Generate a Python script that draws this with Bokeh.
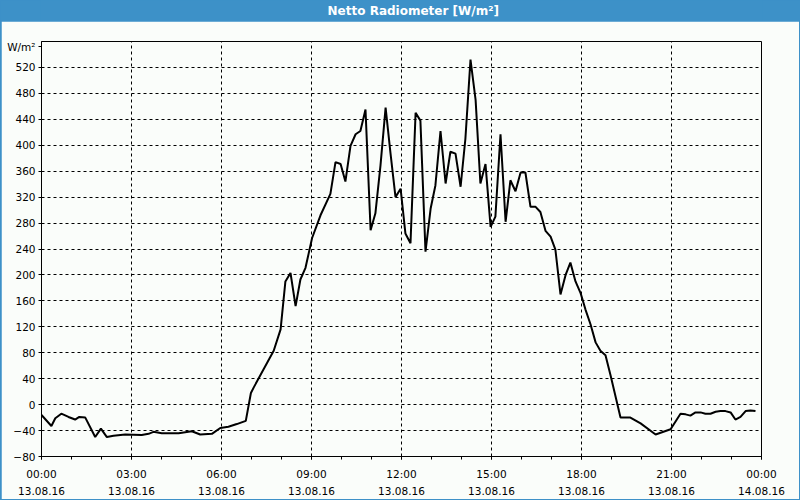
from bokeh.plotting import figure
from bokeh.models import FixedTicker
from bokeh.layouts import column
from bokeh.core.properties import value
from bokeh.embed import file_html
from bokeh.resources import INLINE

TITLE = "Netto Radiometer [W/m²]"
UNIT = "W/m²"

# time in hours after 13.08.16 00:00, values in W/m²
hours = [0.00, 0.33, 0.46, 0.66, 0.90, 1.12, 1.26, 1.46, 1.79, 1.98, 2.18, 2.40,
         2.79, 3.34, 3.57, 3.73, 4.01, 4.57, 5.01, 5.29, 5.68, 5.96, 6.23, 6.51,
         6.81, 6.98, 7.08, 7.74, 7.97, 8.13, 8.30, 8.47, 8.63, 8.80, 8.91, 9.02,
         9.30, 9.63, 9.80, 9.97, 10.13, 10.30, 10.47, 10.63, 10.80, 10.97, 11.13,
         11.30, 11.47, 11.63, 11.80, 11.97, 12.13, 12.30, 12.47, 12.63, 12.80,
         12.97, 13.13, 13.30, 13.47, 13.63, 13.80, 13.97, 14.13, 14.30, 14.47,
         14.63, 14.80, 14.97, 15.13, 15.30, 15.47, 15.63, 15.80, 15.97, 16.13,
         16.30, 16.47, 16.63, 16.80, 16.97, 17.13, 17.30, 17.47, 17.63, 17.80,
         17.97, 18.13, 18.30, 18.47, 18.63, 18.80, 18.97, 19.30, 19.63, 19.97,
         20.47, 20.97, 21.30, 21.47, 21.63, 21.80, 21.97, 22.13, 22.30, 22.47,
         22.63, 22.80, 22.97, 23.13, 23.30, 23.47, 23.63, 23.80]
radiation = [-16, -33, -21, -14, -19, -23, -19, -20, -50, -37, -50, -48,
             -46, -47, -45, -42, -44, -44, -41, -46, -45, -36, -34, -30,
             -25, 18, 27, 83, 116, 190, 203, 152, 193, 211, 234, 257,
             292, 325, 374, 371, 344, 399, 417, 422, 455, 269, 295,
             369, 458, 389, 320, 333, 264, 249, 450, 438, 236,
             302, 338, 422, 341, 390, 387, 336, 410, 532, 470,
             341, 371, 274, 290, 417, 282, 346, 329, 358, 358,
             305, 305, 297, 268, 259, 239, 170, 200, 219, 190,
             172, 147, 124, 96, 83, 76, 45, -20, -20, -29,
             -46, -38, -14, -15, -17, -12, -12, -14, -14, -11,
             -10, -10, -12, -23, -19, -10, -9, -10]

x_ticks = [0, 3, 6, 9, 12, 15, 18, 21, 24]
x_tick_labels = ["00:00\n13.08.16", "03:00\n13.08.16", "06:00\n13.08.16",
                 "09:00\n13.08.16", "12:00\n13.08.16", "15:00\n13.08.16",
                 "18:00\n13.08.16", "21:00\n13.08.16", "00:00\n14.08.16"]
x_minor = list(range(0, 25))
y_ticks = [-80, -40, 0, 40, 80, 120, 160, 200, 240, 280, 320, 360, 400, 440, 480, 520]
unit_pos = 552  # where the unit text sits on the value axis

BLUE = "#3d91c8"
BG = "#fafdfa"
FONT = "DejaVu Sans"

# title bar
top = figure(width=800, height=21, x_range=(0, 800), y_range=(0, 21),
             toolbar_location=None, output_backend="svg", min_border=0)
top.axis.visible = False
top.grid.visible = False
top.background_fill_color = BLUE
top.border_fill_color = BLUE
top.outline_line_color = None
top.text(x=[413], y=[10.5], text=[TITLE], text_color="white",
         text_font=value(FONT), text_font_style="bold", text_font_size="12px",
         text_align="center", text_baseline="middle")

p = figure(width=798, height=478, x_range=(0, 24), y_range=(-80, 560),
           toolbar_location=None, output_backend="svg",
           min_border_left=40, min_border_right=38, min_border_top=20,
           min_border_bottom=39, margin=(0, 1, 1, 1))
p.background_fill_color = BG
p.border_fill_color = BG
p.outline_line_color = "black"

p.line(hours, radiation, line_color="black", line_width=2)

p.xaxis.ticker = FixedTicker(ticks=x_ticks, minor_ticks=x_minor)
p.xaxis.major_label_overrides = {t: lab for t, lab in zip(x_ticks, x_tick_labels)}
p.yaxis.ticker = FixedTicker(ticks=y_ticks + [unit_pos], minor_ticks=[])
p.yaxis.major_label_overrides = {unit_pos: UNIT}

for ax in p.axis:
    ax.axis_line_color = "black"
    ax.major_tick_line_color = "black"
    ax.minor_tick_line_color = "black"
    ax.major_tick_in = 0
    ax.major_tick_out = 3
    ax.minor_tick_in = 0
    ax.minor_tick_out = 3
    ax.major_label_text_font = FONT
    ax.major_label_text_font_size = "10.5px"
    ax.major_label_text_color = "black"
p.xaxis.major_label_standoff = 8
p.xaxis.major_label_text_line_height = 1.45
p.yaxis.major_label_standoff = 3

p.xgrid.ticker = FixedTicker(ticks=x_ticks[1:-1])
p.ygrid.ticker = FixedTicker(ticks=y_ticks[1:])
for g in (p.xgrid, p.ygrid):
    g.grid_line_color = "black"
    g.grid_line_dash = "3 3"
    g.grid_line_width = 1

layout = column(top, p, spacing=0, styles={"background-color": BLUE})

open("out.html", "w").write(file_html(layout, INLINE))
